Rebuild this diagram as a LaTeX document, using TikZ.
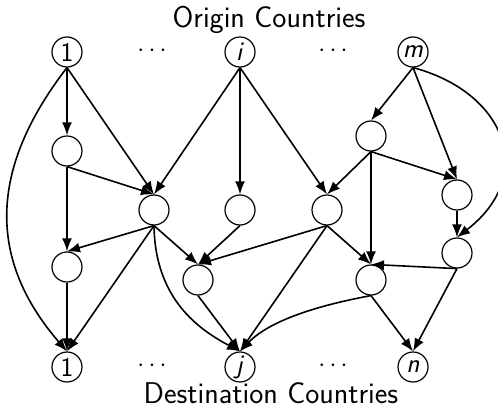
\documentclass[tikz,border=0pt]{standalone}
\usetikzlibrary{arrows.meta}
\begin{document}
\begin{tikzpicture}[x=1pt,y=-1pt,
  country/.style={circle,draw,line width=1.2pt,minimum size=30pt,inner sep=0pt,
    font=\fontsize{27}{27}\sffamily},
  hub/.style={circle,draw,line width=1.2pt,minimum size=30pt,inner sep=0pt},
  gap/.style={inner sep=0pt,font=\fontsize{27}{27}\sffamily},
  flow/.style={line width=1.6pt,-{Latex[length=13pt,width=10pt]}},
  caption/.style={font=\fontsize{30}{32}\sffamily,inner sep=0pt,anchor=base}]
\useasboundingbox (0,0) rectangle (498,409);

% captions
\node[caption] (top) at (269,28) {Origin Countries};
\node[caption] (bot) at (271,403) {Destination Countries};

% origin countries
\node[country] (o1) at (67,52) {1};
\node[gap] (od1) at (152,51) {$\cdots$};
\node[country] (oi) at (240,52) {\textit{i}};
\node[gap] (od2) at (333,51) {$\cdots$};
\node[country] (om) at (413,52) {\textit{m}};

% transit nodes
\node[hub] (a) at (67,151) {};
\node[hub] (b) at (154,210) {};
\node[hub] (c) at (240,210) {};
\node[hub] (d) at (67,267) {};
\node[hub] (e) at (198,280) {};
\node[hub] (f) at (371,136) {};
\node[hub] (g) at (457,195) {};
\node[hub] (h) at (327,210) {};
\node[hub] (k) at (457,253) {};
\node[hub] (l) at (371,280) {};

% destination countries
\node[country] (d1) at (67,367) {1};
\node[gap] (dd1) at (152,366) {$\cdots$};
\node[country] (dj) at (240,367) {\textit{j}};
\node[gap] (dd2) at (333,366) {$\cdots$};
\node[country] (dn) at (413,367) {\textit{n}};

% flows
\draw[flow] (o1.south) -- (a.north);
\draw[flow] (o1.south) -- (b.north);
\draw[flow] (o1.south) .. controls (-12,170) and (-12,260) .. (d1.north);
\draw[flow] (a.south) -- (b.north);
\draw[flow] (a.south) -- (d.north);
\draw[flow] (oi.south) -- (b.north);
\draw[flow] (oi.south) -- (c.north);
\draw[flow] (oi.south) -- (h.north);
\draw[flow] (b.south) -- (d.north);
\draw[flow] (b.south) -- (d1.north);
\draw[flow] (b.south) -- (e.north);
\draw[flow] (b.south) .. controls (155,300) and (200,330) .. (dj.north);
\draw[flow] (c.south) -- (e.north);
\draw[flow] (d.south) -- (d1.north);
\draw[flow] (e.south) -- (dj.north);
\draw[flow] (h.south) -- (e.north);
\draw[flow] (h.south) -- (dj.north);
\draw[flow] (h.south) -- (l.north);
\draw[flow] (om.south) -- (f.north);
\draw[flow] (om.south) -- (g.north);
\draw[flow] (om.south) .. controls (505,92) and (538,175) .. (k.north);
\draw[flow] (f.south) -- (h.north);
\draw[flow] (f.south) -- (g.north);
\draw[flow] (f.south) -- (l.north);
\draw[flow] (g.south) -- (k.north);
\draw[flow] (k.south) -- (l.north);
\draw[flow] (k.south) -- (dn.north);
\draw[flow] (l.south) -- (dn.north);
\draw[flow] (l.south) .. controls (320,305) and (270,320) .. (dj.north);
\end{tikzpicture}
\end{document}
